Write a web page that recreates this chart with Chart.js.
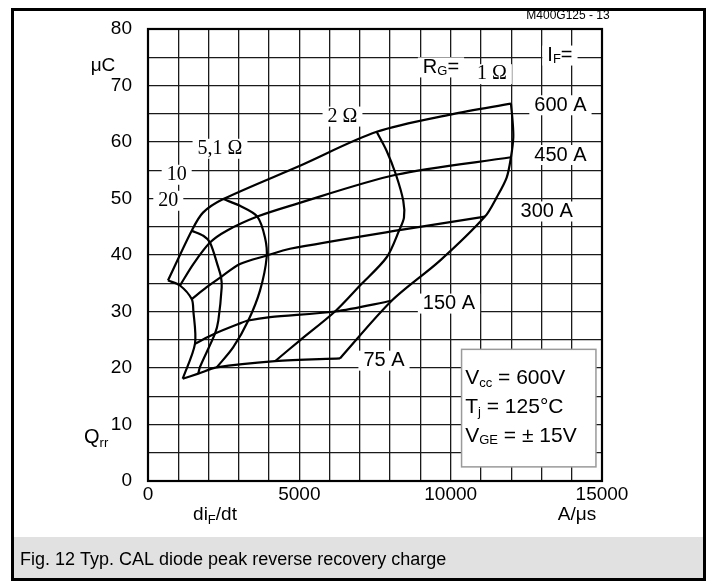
<!DOCTYPE html>
<html>
<head>
<meta charset="utf-8">
<script src="https://cdn.jsdelivr.net/npm/chart.js@4.4.1/dist/chart.umd.min.js"></script>
<style>
    html, body { margin: 0; padding: 0; background: #fff; overflow: hidden; }
    canvas { display: block; }
</style>
</head>
<body>
<canvas id="qrrChart" width="716" height="587" style="width:716px;height:587px"></canvas>
<script>
// --- DATOS ---
// eje x: diF/dt en A/us, eje y: Qrr en uC
const xTickLabels = [0, 5000, 10000, 15000];
const yTickLabels = [0, 10, 20, 30, 40, 50, 60, 70, 80];

// curvas de IF constante (de RG = 20 ohm a RG = 1 ohm)
const if600X = [661, 1444, 1817, 2488, 5021, 7555, 10033, 11992];
const if600Y = [35.5, 44.3, 47.5, 49.9, 55.8, 61.8, 64.9, 66.8];
const if450X = [1057, 1497, 2048, 2600, 3611, 4691, 8193, 11992];
const if450Y = [34.6, 38.4, 42.2, 44.3, 46.8, 48.7, 54.2, 57.3];
const if300X = [1444, 1939, 2412, 3039, 3921, 4691, 8302, 11133];
const if300Y = [32.2, 34.3, 36.1, 38.4, 39.9, 41.1, 44.4, 46.8];
const if150X = [1553, 2213, 3039, 3314, 4031, 6178, 8051];
const if150Y = [24.3, 26.1, 27.9, 28.4, 29.0, 30.0, 31.9];
const if75X = [1146, 1662, 2270, 4196, 6343];
const if75Y = [18.1, 19.0, 20.1, 21.2, 21.7];

// curvas de RG constante (de IF = 600 A a IF = 75 A)
const rg20X = [661, 1057, 1444, 1497, 1553, 1146];
const rg20Y = [35.5, 34.6, 32.2, 30.2, 24.3, 18.1];
const rg10X = [1444, 1828, 2048, 2323, 2412, 2435, 2323, 2213, 1718, 1662];
const rg10Y = [44.3, 43.4, 42.2, 37.8, 36.1, 34.3, 28.4, 26.1, 20.2, 19.0];
const rg5X = [2488, 3039, 3612, 3865, 3921, 3700, 3314, 2818, 2270];
const rg5Y = [49.9, 48.7, 46.8, 43.1, 39.6, 33.7, 28.4, 23.7, 20.1];
const rg2X = [7555, 7886, 8193, 8434, 8457, 8302, 7886, 7004, 6178, 5021, 4196];
const rg2Y = [61.8, 58.4, 54.2, 49.6, 46.6, 44.4, 39.6, 34.6, 30.0, 24.9, 21.2];
const rg1X = [11992, 12046, 12069, 11992, 11850, 11520, 11133, 9647, 8051, 6343];
const rg1Y = [66.8, 63.7, 60.8, 57.3, 53.7, 50.2, 46.8, 39.0, 31.9, 21.7];

const seriesX = [if600X, if450X, if300X, if150X, if75X, rg20X, rg10X, rg5X, rg2X, rg1X];
const seriesY = [if600Y, if450Y, if300Y, if150Y, if75Y, rg20Y, rg10Y, rg5Y, rg2Y, rg1Y];

// etiquetas dentro del gráfico (en unidades de los ejes)
const SANS = '"Liberation Sans", Arial, Helvetica, sans-serif';
const SERIF = '"Liberation Serif", "Times New Roman", serif';
const plotLabels = [
    { parts: [['600 A', 20]], x: 13627, y: 66.5 },
    { parts: [['450 A', 20]], x: 13627, y: 57.7 },
    { parts: [['300 A', 20]], x: 13171, y: 47.7 },
    { parts: [['150 A', 20]], x: 9944, y: 31.4 },
    { parts: [['75 A', 20]], x: 7797, y: 21.3 },
    { parts: [['I', 20], ['F', 13, 4], ['=', 20]], x: 13611, y: 75.3 },
    { parts: [['R', 20], ['G', 13, 4], ['=', 20]], x: 9680, y: 73.2 },
    { parts: [['1 Ω', 20, 0, SERIF]], x: 11364, y: 72.0 },
    { parts: [['2 Ω', 20, 0, SERIF]], x: 6426, y: 64.5 },
    { parts: [['5,1 Ω', 20, 0, SERIF]], x: 2379, y: 58.8 },
    { parts: [['10', 20, 0, SERIF]], x: 948, y: 54.2 },
    { parts: [['20', 20, 0, SERIF]], x: 671, y: 49.6 }
];
const condBox = { x0: 10360, x1: 14800, y0: 2.5, y1: 23.3, textX: 10480 };
const condLines = [
    { y: 18.2, parts: [['V', 21], ['cc', 13, 5], [' = 600V', 21]] },
    { y: 13.0, parts: [['T', 21], ['j', 13, 5], [' = 125°C', 21]] },
    { y: 8.0, parts: [['V', 21], ['GE', 13, 5], [' = ± 15V', 21]] }
];

// --- DIBUJO DE TEXTO CON SUBÍNDICES ---
function measureParts(ctx, parts) {
    let w = 0;
    parts.forEach(p => {
        ctx.font = p[1] + 'px ' + (p[3] || SANS);
        w += ctx.measureText(p[0]).width;
    });
    return w;
}

function drawParts(ctx, parts, x, y, align) {
    const w = measureParts(ctx, parts);
    let cx = align === 'center' ? x - w / 2 : (align === 'right' ? x - w : x);
    ctx.textBaseline = 'middle';
    ctx.textAlign = 'left';
    ctx.fillStyle = '#000';
    parts.forEach(p => {
        ctx.font = p[1] + 'px ' + (p[3] || SANS);
        ctx.fillText(p[0], cx, y + (p[2] || 0));
        cx += ctx.measureText(p[0]).width;
    });
    return w;
}

const decorations = {
    id: 'decorations',
    beforeDraw(chart) {
        const ctx = chart.ctx;
        ctx.save();
        ctx.fillStyle = '#fff';
        ctx.fillRect(0, 0, chart.width, chart.height);
        ctx.restore();
    },
    afterDatasetsDraw(chart) {
        const ctx = chart.ctx;
        const xs = chart.scales.x, ys = chart.scales.y;
        const area = chart.chartArea;
        ctx.save();

        // etiquetas con fondo blanco
        plotLabels.forEach(l => {
            const px = xs.getPixelForValue(l.x), py = ys.getPixelForValue(l.y);
            const w = measureParts(ctx, l.parts);
            ctx.fillStyle = '#fff';
            ctx.fillRect(px - w / 2 - 5, py - 10, w + 10, 20);
            drawParts(ctx, l.parts, px, py, 'center');
        });

        // recuadro de condiciones
        const bx0 = xs.getPixelForValue(condBox.x0), bx1 = xs.getPixelForValue(condBox.x1);
        const by0 = ys.getPixelForValue(condBox.y1), by1 = ys.getPixelForValue(condBox.y0);
        ctx.fillStyle = '#fff';
        ctx.fillRect(bx0, by0, bx1 - bx0, by1 - by0);
        ctx.strokeStyle = '#9a9a9a';
        ctx.lineWidth = 1.5;
        ctx.strokeRect(bx0, by0, bx1 - bx0, by1 - by0);
        condLines.forEach(c => {
            drawParts(ctx, c.parts, xs.getPixelForValue(condBox.textX), ys.getPixelForValue(c.y), 'left');
        });

        // borde del área
        ctx.strokeStyle = '#000';
        ctx.lineWidth = 2.2;
        ctx.strokeRect(area.left, area.top, area.right - area.left, area.bottom - area.top);
        ctx.restore();
    },
    afterDraw(chart) {
        const ctx = chart.ctx;
        ctx.save();
        // títulos de ejes
        drawParts(ctx, [['μC', 19]], 103, 66, 'center');
        drawParts(ctx, [['Q', 20], ['rr', 13, 6]], 84, 437, 'left');
        drawParts(ctx, [['di', 19], ['F', 13, 5], ['/dt', 19]], 215, 515, 'center');
        drawParts(ctx, [['A/μs', 19]], 577, 515, 'center');
        drawParts(ctx, [['M400G125 - 13', 12]], 568, 16, 'center');

        // pie de figura
        ctx.fillStyle = '#e1e1e1';
        ctx.fillRect(13, 537, 691, 42);
        drawParts(ctx, [['Fig. 12 Typ. CAL diode peak reverse recovery charge', 18]], 20, 560, 'left');

        // marco exterior
        ctx.strokeStyle = '#000';
        ctx.lineWidth = 3;
        ctx.strokeRect(12.5, 9.5, 692, 570);
        ctx.restore();
    }
};

// --- GRÁFICO ---
const datasets = seriesX.map((xs, i) => ({
    data: xs.map((x, j) => ({ x: x, y: seriesY[i][j] })),
    showLine: true,
    borderColor: '#000',
    borderWidth: 2.2,
    pointRadius: 0,
    tension: 0.3,
    fill: false
}));

new Chart(document.getElementById('qrrChart'), {
    type: 'scatter',
    data: { datasets },
    options: {
        responsive: false,
        animation: false,
        devicePixelRatio: 1,
        layout: { padding: { left: 12, top: 29, right: 114, bottom: 66 } },
        plugins: { legend: { display: false }, tooltip: { enabled: false } },
        scales: {
            x: {
                type: 'linear', min: 0, max: 15000,
                afterFit: s => { s.height = 40; s.paddingLeft = 0; s.paddingRight = 0; },
                ticks: {
                    stepSize: 1000, autoSkip: false, maxRotation: 0, padding: 2,
                    color: '#000', font: { family: SANS, size: 19 },
                    callback: v => xTickLabels.includes(v) ? String(v) : ''
                },
                grid: { color: '#1a1a1a', lineWidth: 1.3, drawTicks: false },
                border: { display: false }
            },
            y: {
                type: 'linear', min: 0, max: 80,
                afterFit: s => { s.width = 136; s.paddingTop = 0; s.paddingBottom = 0; },
                ticks: {
                    stepSize: 5, autoSkip: false, padding: 16,
                    color: '#000', font: { family: SANS, size: 19 },
                    callback: v => yTickLabels.includes(v) ? String(v) : ''
                },
                grid: { color: '#1a1a1a', lineWidth: 1.3, drawTicks: false },
                border: { display: false }
            }
        }
    },
    plugins: [decorations]
});
</script>
</body>
</html>
